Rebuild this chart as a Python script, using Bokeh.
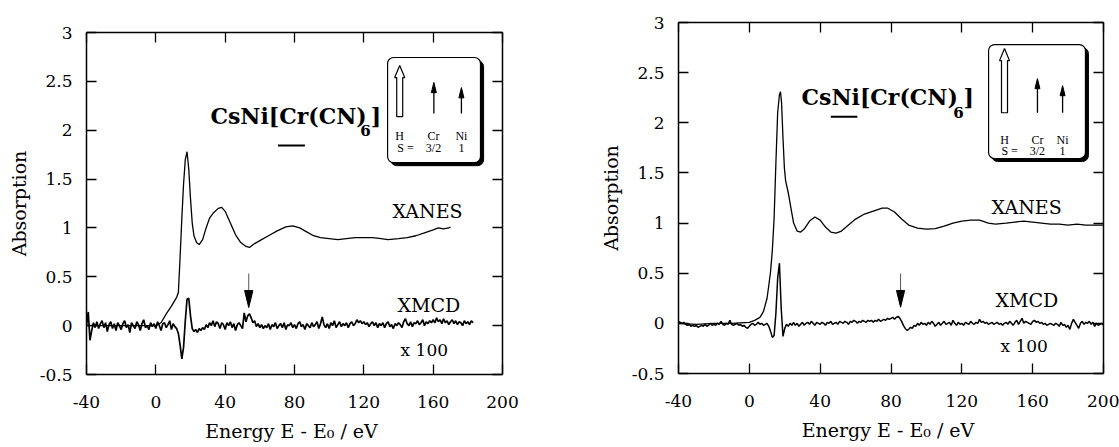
from bokeh.plotting import figure
from bokeh.models import LinearAxis, FixedTicker, Spacer
from bokeh.layouts import row, column
from bokeh.embed import file_html
from bokeh.resources import INLINE
from bokeh.core.properties import value

# ---------------- data ----------------
x_ticks = [-40, 0, 40, 80, 120, 160, 200]
x_tick_labels = ["-40", "0", "40", "80", "120", "160", "200"]
y_ticks = [-0.5, 0, 0.5, 1, 1.5, 2, 2.5, 3]
y_tick_labels = ["-0.5", "0", "0.5", "1", "1.5", "2", "2.5", "3"]

# Left panel: Cr K-edge
cr_xanes_e = [-40, -20, 0, 3, 6, 9, 12, 13, 14, 15, 16, 17, 18, 19, 20, 21, 22, 23.5, 25, 27,
              29, 31, 33, 36, 38, 40, 43, 46, 49, 52, 54, 57, 61, 65, 70, 75, 79, 83, 87, 91,
              95, 100, 105, 110, 115, 120, 125, 130, 134, 140, 145, 150, 155, 160, 163, 166, 169, 170]
cr_xanes_a = [0.0, 0.0, 0.0, 0.03, 0.12, 0.2, 0.29, 0.34, 0.7, 1.1, 1.45, 1.7, 1.78, 1.6, 1.3, 1.05, 0.92, 0.85, 0.83, 0.88,
              1.0, 1.1, 1.15, 1.2, 1.21, 1.17, 1.05, 0.93, 0.85, 0.81, 0.80, 0.84, 0.88, 0.92, 0.97, 1.01, 1.02, 1.0, 0.96, 0.92,
              0.9, 0.89, 0.88, 0.89, 0.9, 0.9, 0.9, 0.89, 0.88, 0.89, 0.9, 0.92, 0.95, 0.98, 1.0, 0.99, 1.0, 1.01]
cr_xmcd_e = list(range(-40, 184))
cr_xmcd_a = [0.00, 0.14, -0.15, -0.05, 0.03, -0.02, 0.04, -0.03, 0.02, 0.05,
             -0.02, 0.03, -0.06, 0.01, 0.04, -0.03, 0.02, -0.05, 0.03, 0.00,
             -0.04, 0.02, 0.05, -0.02, 0.01, -0.07, 0.03, 0.00, -0.03, 0.04,
             0.01, -0.05, 0.02, 0.06, -0.02, 0.00, -0.04, 0.03, -0.01, 0.02,
             -0.03, 0.04, 0.00, -0.05, 0.02, 0.03, -0.02, 0.01, 0.05, -0.04,
             0.02, -0.01, -0.03, -0.08, -0.20, -0.34, -0.22, 0.05, 0.27, 0.28,
             0.10, -0.03, -0.06, -0.04, -0.07, -0.03, -0.05, -0.02, -0.04, 0.01,
             -0.02, 0.03, 0.00, 0.05, -0.01, 0.04, 0.02, -0.03, 0.03, 0.01,
             -0.04, 0.03, 0.00, 0.04, -0.02, 0.02, -0.05, 0.01, 0.03, 0.00,
             -0.03, 0.13, 0.04, 0.10, 0.12, 0.08, 0.03, 0.05, -0.01, 0.02,
             -0.02, 0.01, -0.03, 0.00, -0.02, 0.02, -0.04, 0.01, -0.01, 0.03,
             -0.03, 0.00, 0.02, -0.02, 0.03, -0.04, 0.01, 0.00, 0.03, -0.02,
             0.01, -0.03, 0.02, 0.04, -0.01, 0.01, -0.04, 0.02, 0.00, -0.02,
             0.03, -0.01, 0.01, 0.04, -0.03, 0.02, 0.09, 0.01, -0.02, 0.02,
             -0.03, 0.03, 0.00, 0.05, -0.02, 0.01, 0.04, -0.01, 0.02, 0.00,
             0.03, -0.02, 0.02, 0.04, 0.00, 0.02, 0.06, 0.03, 0.05, 0.02,
             0.04, 0.01, 0.03, -0.01, 0.02, 0.04, 0.00, 0.03, -0.02, 0.02,
             0.00, 0.03, -0.02, 0.02, 0.04, -0.01, 0.01, -0.03, 0.02, 0.00,
             0.03, 0.01, -0.02, 0.04, 0.07, 0.02, 0.00, 0.04, -0.01, 0.03,
             0.02, 0.05, 0.01, 0.03, 0.06, 0.00, 0.04, 0.02, 0.05, 0.03,
             0.06, 0.03, 0.08, 0.04, 0.06, 0.02, 0.07, 0.03, 0.05, 0.01,
             0.04, 0.06, 0.02, 0.05, 0.01, 0.04, 0.03, 0.00, 0.05, 0.02,
             0.04, 0.01, 0.05, 0.03]

# Right panel: Ni K-edge
ni_xanes_e = [-40, -30, -20, -10, 0, 3, 6, 8, 10, 11, 12, 13, 14, 15, 16, 17, 17.6, 18.2, 19, 19.8,
              20.5, 22, 23.5, 25, 27, 29, 31, 34, 37, 40, 43, 46, 49, 52, 56, 60, 65, 70, 75, 78,
              82, 86, 90, 95, 100, 105, 110, 115, 120, 125, 130, 135, 139, 145, 150, 155, 160, 165, 170, 175,
              180, 185, 190, 195, 200]
ni_xanes_a = [0.0, -0.01, 0.0, 0.0, 0.01, 0.03, 0.06, 0.12, 0.25, 0.38, 0.52, 0.73, 1.05, 1.6, 2.1, 2.28, 2.31, 2.2, 1.85, 1.55,
              1.42, 1.3, 1.15, 1.0, 0.92, 0.91, 0.94, 1.02, 1.06, 1.03, 0.96, 0.91, 0.9, 0.92, 0.98, 1.04, 1.09, 1.12, 1.15, 1.15,
              1.11, 1.04, 0.98, 0.95, 0.94, 0.945, 0.97, 1.0, 1.02, 1.03, 1.03, 1.0, 0.99, 1.0, 1.01, 1.02, 1.01, 1.0, 0.99, 0.99,
              0.98, 0.99, 0.98, 0.98, 0.98]
ni_xmcd_e = list(range(-40, 201))
ni_xmcd_a = [0.02, 0.01, 0.00, 0.01, -0.01, -0.02, -0.01, -0.03, -0.02, -0.03,
             -0.02, -0.04, -0.03, -0.02, -0.03, -0.01, -0.03, -0.02, 0.00, -0.02,
             -0.01, -0.02, 0.00, -0.01, 0.02, -0.01, -0.02, 0.00, -0.01, 0.03,
             -0.01, -0.02, -0.01, 0.00, -0.02, -0.01, -0.03, -0.02, -0.04, -0.05,
             -0.03, -0.01, 0.00, -0.02, -0.01, 0.01, -0.01, 0.00, -0.02, -0.01,
             0.00, -0.03, -0.08, -0.14, -0.12, 0.10, 0.45, 0.60, 0.15, -0.13,
             -0.05, -0.01, -0.03, 0.00, -0.02, 0.01, -0.02, 0.00, -0.03, -0.01,
             0.01, -0.02, 0.00, 0.01, -0.01, 0.02, 0.00, -0.02, 0.01, 0.00,
             -0.01, 0.01, 0.00, -0.02, 0.01, 0.00, 0.02, -0.01, 0.00, 0.01,
             -0.01, 0.02, 0.01, 0.00, 0.02, 0.01, -0.01, 0.02, 0.01, 0.03,
             0.02, 0.00, 0.02, 0.01, 0.03, 0.02, 0.01, 0.03, 0.02, 0.03,
             0.01, 0.03, 0.02, 0.04, 0.02, 0.03, 0.04, 0.03, 0.05, 0.04,
             0.05, 0.06, 0.04, 0.06, 0.07, 0.05, 0.02, -0.02, -0.05, -0.07,
             -0.06, -0.04, -0.05, -0.02, -0.03, 0.00, -0.02, 0.01, -0.01, 0.00,
             -0.02, 0.01, -0.01, 0.02, 0.00, -0.03, -0.01, 0.01, -0.02, 0.00,
             0.02, -0.01, 0.00, 0.01, -0.02, 0.03, 0.00, -0.02, 0.01, -0.01,
             0.00, -0.02, 0.01, 0.00, -0.01, 0.02, 0.00, -0.01, 0.01, 0.00,
             0.04, 0.01, 0.02, 0.00, 0.01, -0.01, 0.00, 0.01, -0.01, 0.00,
             0.01, -0.01, 0.00, -0.02, 0.00, 0.01, -0.01, 0.02, 0.00, -0.02,
             0.01, 0.03, -0.01, 0.02, 0.05, 0.00, 0.02, 0.01, 0.00, -0.01,
             0.02, 0.03, 0.01, 0.02, 0.00, 0.01, -0.01, 0.00, -0.02, -0.01,
             0.00, -0.01, -0.02, 0.00, -0.01, -0.03, 0.01, -0.02, -0.01, -0.04,
             -0.02, -0.06, 0.00, 0.04, 0.01, -0.02, -0.05, 0.00, 0.02, -0.01,
             0.01, 0.00, 0.02, -0.01, 0.01, -0.03, 0.00, -0.02, -0.01, 0.00,
             -0.02]

# ---------------- styling / layout (data-coordinate positions of decorations) -------------
SERIF = "DejaVu Serif"
INSET_FONT = "Liberation Serif"

left_deco = dict(
    xanes=(136.5, 1.176), xmcd=(139.4, 0.216), x100=(141.2, -0.245),
    title=(31.5, 2.149), sub6=(118.0, 1.996), bracket=(124.0, 2.149),
    underline=(70.5, 86.0, 1.843),
    box=(133.7, 187.3, 1.669, 2.744), shadow=(1.8, 0.032),
    harrow=(140.7, 2.662, 2.539, 2.14, 1.73, 2.9),
    small_arrows=[(160.4, 2.172, 2.489), (176.3, 2.172, 2.436)],
    head=(0.105, 1.45),
    row1=(1.945, [(140.6, "H"), (160.2, "Cr"), (176.3, "Ni")]),
    row2=(1.822, [(144.0, "S ="), (160.2, "3/2"), (176.3, "1")]),
    marker=(53.6, 0.533, 0.359, 0.185, 2.4),
)
right_deco = dict(
    xanes=(136.8, 1.165), xmcd=(139.0, 0.228), x100=(141.8, -0.23),
    title=(29.5, 2.26), sub6=(115.2, 2.10), bracket=(121.0, 2.26),
    underline=(46.0, 61.0, 2.06),
    box=(135.1, 189.8, 1.644, 2.78), shadow=(1.7, 0.03),
    harrow=(144.1, 2.74, 2.62, 2.10, 1.7, 2.8),
    small_arrows=[(162.7, 2.10, 2.44), (176.9, 2.10, 2.37)],
    head=(0.10, 1.4),
    row1=(1.833, [(144.1, "H"), (162.7, "Cr"), (176.9, "Ni")]),
    row2=(1.723, [(147.0, "S ="), (162.7, "3/2"), (176.9, "1")]),
    marker=(85.4, 0.497, 0.328, 0.161, 2.3),
)


def style_axis(ax, ticks, labels, show):
    ax.ticker = FixedTicker(ticks=ticks, minor_ticks=[])
    ax.major_label_overrides = {t: (l if show else "") for t, l in zip(ticks, labels)}
    ax.major_tick_in = 10
    ax.major_tick_out = 0
    ax.minor_tick_line_color = None
    ax.axis_line_color = "black"
    ax.axis_line_width = 1.5
    ax.major_tick_line_color = "black"
    ax.major_tick_line_width = 1.3
    ax.major_label_text_font = SERIF
    ax.major_label_text_font_size = "17px"
    ax.major_label_text_color = "black"
    ax.axis_label_text_font = SERIF
    ax.axis_label_text_font_size = "19px"
    ax.axis_label_text_font_style = "normal"
    ax.axis_label_text_color = "black"


def txt(p, x, y, s, size, font=SERIF, bold=False, align="left", baseline="middle"):
    p.text(x=[x], y=[y], text=[s], text_font=value(font), text_font_size=f"{size}px",
           text_font_style="bold" if bold else "normal", text_align=align,
           text_baseline=baseline, text_color="black")


def make_panel(xanes_e, xanes_a, xmcd_e, xmcd_a, deco, w, h, bl, br, bt, bb, xw, yw):
    p = figure(width=w, height=h, min_border_left=bl, min_border_right=br,
               min_border_top=bt, min_border_bottom=bb,
               x_range=(-40, 200), y_range=(-0.5, 3), x_axis_label="Energy  E - E\u2080 / eV",
               y_axis_label="Absorption", output_backend="svg", toolbar_location=None,
               background_fill_color="white", border_fill_color="white")
    p.outline_line_color = None
    p.grid.visible = False
    style_axis(p.xaxis[0], x_ticks, x_tick_labels, True)
    style_axis(p.yaxis[0], y_ticks, y_tick_labels, True)
    p.xaxis[0].major_label_standoff = 21
    p.xaxis[0].axis_label_standoff = 9
    p.yaxis[0].major_label_standoff = 14
    p.yaxis[0].axis_label_standoff = 7
    top = LinearAxis()
    right = LinearAxis()
    style_axis(top, x_ticks, x_tick_labels, False)
    style_axis(right, y_ticks, y_tick_labels, False)
    top.major_label_standoff = 0
    right.major_label_standoff = 0
    top.major_label_text_font_size = "1px"
    right.major_label_text_font_size = "1px"
    p.add_layout(top, "above")
    p.add_layout(right, "right")

    # data curves
    p.line(xanes_e, xanes_a, line_color="black", line_width=xw)
    p.line(xmcd_e, xmcd_a, line_color="black", line_width=yw)

    # curve labels
    txt(p, *deco["xanes"], "XANES", 19)
    txt(p, *deco["xmcd"], "XMCD", 19)
    txt(p, *deco["x100"], "x 100", 17)

    # compound formula
    txt(p, *deco["title"], "CsNi[Cr(CN)", 22, bold=True)
    txt(p, *deco["sub6"], "6", 15, bold=True)
    txt(p, *deco["bracket"], "]", 22, bold=True)
    u0, u1, uy = deco["underline"]
    p.segment(x0=[u0], y0=[uy], x1=[u1], y1=[uy], line_color="black", line_width=2)

    # inset with spin arrows
    l, r, b, t = deco["box"]
    dx, dy = deco["shadow"]
    try:
        p.quad(left=[l + dx], right=[r + dx], bottom=[b - dy], top=[t - dy], fill_color="black",
               line_color="black", border_radius=6)
        p.quad(left=[l], right=[r], bottom=[b], top=[t], fill_color="white",
               line_color="black", line_width=1.2, border_radius=6)
    except Exception:
        p.quad(left=[l + dx], right=[r + dx], bottom=[b - dy], top=[t - dy], fill_color="black",
               line_color="black")
        p.quad(left=[l], right=[r], bottom=[b], top=[t], fill_color="white",
               line_color="black", line_width=1.2)
    hx, htip, hbase, hbot, hb, hh = deco["harrow"]
    p.patch(x=[hx - hb, hx - hb, hx - hh, hx, hx + hh, hx + hb, hx + hb],
            y=[hbot, hbase, hbase, htip, hbase, hbase, hbot],
            fill_color="white", line_color="black", line_width=1.2)
    hl, hw = deco["head"]
    for ax_, y0, y1 in deco["small_arrows"]:
        p.segment(x0=[ax_], y0=[y0], x1=[ax_], y1=[y1 - hl * 0.5], line_color="black", line_width=1.3)
        p.patch(x=[ax_ - hw, ax_, ax_ + hw], y=[y1 - hl, y1, y1 - hl],
                fill_color="black", line_color="black", line_width=1)
    ry, items = deco["row1"]
    for xx, s in items:
        txt(p, xx, ry, s, 12, font=INSET_FONT, align="center")
    ry, items = deco["row2"]
    for xx, s in items:
        txt(p, xx, ry, s, 12, font=INSET_FONT, align="center")

    # arrow marking the XMCD feature
    mx, mtop, mbase, mtip, mw = deco["marker"]
    p.segment(x0=[mx], y0=[mtop], x1=[mx], y1=[mbase], line_color="#555555", line_width=1)
    p.patch(x=[mx - mw, mx, mx + mw], y=[mbase, mtip, mbase],
            fill_color="black", line_color="black", line_width=1)
    return p


# left: 86 + 416 + 40 = 542 wide; 18 spacer + 14 + 342 + 73 = 447 tall
p1 = make_panel(cr_xanes_e, cr_xanes_a, cr_xmcd_e, cr_xmcd_a, left_deco,
                542, 429, 86, 40, 14, 73, 1.3, 1.7)
# right: 136 + 425 + 16 = 577 wide; 8 spacer + 14 + 351 + 74 = 447 tall
p2 = make_panel(ni_xanes_e, ni_xanes_a, ni_xmcd_e, ni_xmcd_a, right_deco,
                577, 439, 136, 16, 14, 74, 1.3, 1.5)

layout = row(column(Spacer(width=542, height=18), p1),
             column(Spacer(width=577, height=8), p2))
open("out.html", "w").write(file_html(layout, INLINE, title="CsNi[Cr(CN)6] XANES / XMCD"))
